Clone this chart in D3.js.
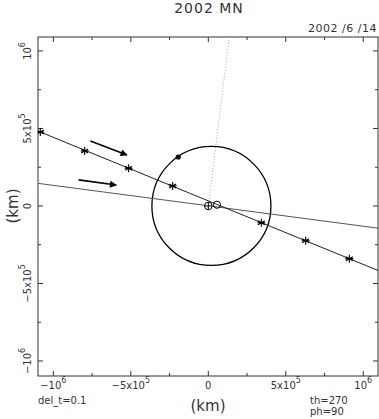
<!DOCTYPE html>
<html><head><meta charset="utf-8">
<script src="https://cdn.jsdelivr.net/npm/d3@7"></script>
<style>
body{margin:0;background:#fff;}
text{font-family:"DejaVu Sans",sans-serif;fill:#333;}
</style></head>
<body><div id="chart"></div>
<script>
// ---- data ----
const title = "2002 MN";
const dateLabel = "2002 /6 /14";
const majorTicks = [-1e6, -5e5, 0, 5e5, 1e6];
const tickBase = ["\u221210", "\u22125x10", "0", "5x10", "10"];
const tickExp = ["6", "5", "", "5", "6"];
const minorTicks = [-7.5e5, -2.5e5, 2.5e5, 7.5e5];
// asteroid positions every del_t (km)
const starX = [-1084e3, -798e3, -514e3, -230e3, 342e3, 628e3, 910e3];
const starY = [477e3, 355e3, 243e3, 129e3, -108e3, -224e3, -340e3];
// trajectory line
const trajX = [-1.10e6, 1.10e6];
const trajY = [4.835e5, -4.18e5];
// second line
const line2X = [-1.10e6, 1.10e6];
const line2Y = [1.46e5, -1.44e5];
// direction arrows
const arrow1X = [-761e3, -525e3], arrow1Y = [419e3, 329e3];
const arrow2X = [-837e3, -594e3], arrow2Y = [168e3, 135e3];
// dotted line (direction)
const dotX = [1.35e5, 0], dotY = [1.09e6, 0];
// moon orbit
const orbitCenter = [20e3, 0], orbitR = 384e3;
const dotPoint = [-194e3, 316e3];
const earth = [0, 0];
const moon = [56e3, 8e3];

// ---- chart ----
const W = 379, H = 419;
const svg = d3.select("#chart").append("svg").attr("width", W).attr("height", H);
const x = d3.scaleLinear().domain([-1.099e6, 1.095e6]).range([38, 378]);
const y = d3.scaleLinear().domain([-1.097e6, 1.090e6]).range([376, 37]);
const kx = (x(1e6) - x(0)) / 1e6;

svg.append("defs").append("clipPath").attr("id", "clip")
  .append("rect").attr("x", 38).attr("y", 37).attr("width", 340).attr("height", 339);
svg.select("defs").append("marker").attr("id", "ah").attr("viewBox", "0 0 10 10")
  .attr("refX", 9).attr("refY", 5).attr("markerWidth", 8).attr("markerHeight", 7)
  .attr("markerUnits", "userSpaceOnUse").attr("orient", "auto")
  .append("path").attr("d", "M0,0L10,5L0,10Z").attr("fill", "#000");

// frame
svg.append("rect").attr("x", 38).attr("y", 37).attr("width", 340).attr("height", 339)
  .attr("fill", "none").attr("stroke", "#333").attr("stroke-width", 1);

// ticks
const tk = svg.append("g").attr("stroke", "#333").attr("stroke-width", 1);
function ticks(vals, len) {
  vals.forEach(v => {
    const px = x(v), py = y(v);
    tk.append("line").attr("x1", px).attr("x2", px).attr("y1", 376).attr("y2", 376 - len);
    tk.append("line").attr("x1", px).attr("x2", px).attr("y1", 37).attr("y2", 37 + len);
    tk.append("line").attr("y1", py).attr("y2", py).attr("x1", 38).attr("x2", 38 + len);
    tk.append("line").attr("y1", py).attr("y2", py).attr("x1", 378).attr("x2", 378 - len);
  });
}
ticks(majorTicks, 5);
ticks(minorTicks, 3);

// tick labels
majorTicks.forEach((v, i) => {
  const t = svg.append("text").attr("x", x(v)).attr("y", 389).attr("text-anchor", "middle")
    .attr("font-size", 10);
  t.append("tspan").text(tickBase[i]);
  if (tickExp[i]) t.append("tspan").attr("dy", -6).attr("font-size", 8).text(tickExp[i]);
  const ty = svg.append("text").attr("transform", `translate(31,${y(v)}) rotate(-90)`)
    .attr("text-anchor", "middle").attr("font-size", 10);
  ty.append("tspan").text(tickBase[i]);
  if (tickExp[i]) ty.append("tspan").attr("dy", -6).attr("font-size", 8).text(tickExp[i]);
});

// labels
svg.append("text").attr("x", 209).attr("y", 13).attr("text-anchor", "middle")
  .attr("font-size", 14).attr("letter-spacing", 1).text(title);
svg.append("text").attr("x", 377).attr("y", 32).attr("text-anchor", "end")
  .attr("font-size", 11).attr("letter-spacing", 0.5).text(dateLabel);
svg.append("text").attr("x", 208).attr("y", 411).attr("text-anchor", "middle")
  .attr("font-size", 15).text("(km)");
svg.append("text").attr("transform", "translate(18,206) rotate(-90)").attr("text-anchor", "middle")
  .attr("font-size", 15).text("(km)");
svg.append("text").attr("x", 38).attr("y", 404).attr("font-size", 10).text("del_t=0.1");
svg.append("text").attr("x", 310).attr("y", 404).attr("font-size", 10).text("th=270");
svg.append("text").attr("x", 310).attr("y", 415).attr("font-size", 10).text("ph=90");

const g = svg.append("g").attr("clip-path", "url(#clip)");
const line = d3.line().x(d => x(d[0])).y(d => y(d[1]));

// dotted line
g.append("path").attr("d", line(d3.zip(dotX, dotY))).attr("stroke", "#aaa")
  .attr("stroke-width", 1).attr("stroke-dasharray", "1,2").attr("fill", "none");
// orbit
g.append("circle").attr("cx", x(orbitCenter[0])).attr("cy", y(orbitCenter[1]))
  .attr("r", orbitR * kx).attr("fill", "none").attr("stroke", "#000").attr("stroke-width", 1.3);
// lines
g.append("path").attr("d", line(d3.zip(line2X, line2Y))).attr("stroke", "#555")
  .attr("stroke-width", 1).attr("fill", "none");
g.append("path").attr("d", line(d3.zip(trajX, trajY))).attr("stroke", "#222")
  .attr("stroke-width", 1).attr("fill", "none");
// arrows
[[arrow1X, arrow1Y], [arrow2X, arrow2Y]].forEach(([ax, ay]) => {
  g.append("path").attr("d", line(d3.zip(ax, ay))).attr("stroke", "#000")
    .attr("stroke-width", 1.6).attr("fill", "none").attr("marker-end", "url(#ah)");
});
// stars
const sr = 4;
const starPath = `M0,${-sr}L0,${sr}M${-sr*0.87},${-sr/2}L${sr*0.87},${sr/2}M${-sr*0.87},${sr/2}L${sr*0.87},${-sr/2}M${-sr},0L${sr},0`;
d3.zip(starX, starY).forEach(d => {
  g.append("path").attr("d", starPath).attr("transform", `translate(${x(d[0])},${y(d[1])})`)
    .attr("stroke", "#000").attr("stroke-width", 1.1).attr("fill", "none");
});
// filled dot
g.append("circle").attr("cx", x(dotPoint[0])).attr("cy", y(dotPoint[1])).attr("r", 2.6).attr("fill", "#000");
// earth
const ex = x(earth[0]), ey = y(earth[1]);
g.append("circle").attr("cx", ex).attr("cy", ey).attr("r", 3.8).attr("fill", "#fff").attr("stroke", "#000").attr("stroke-width", 1);
g.append("path").attr("d", `M${ex-3.8},${ey}L${ex+3.8},${ey}M${ex},${ey-3.8}L${ex},${ey+3.8}`).attr("stroke", "#000").attr("stroke-width", 1);
// moon
g.append("circle").attr("cx", x(moon[0])).attr("cy", y(moon[1])).attr("r", 3.6).attr("fill", "none").attr("stroke", "#000").attr("stroke-width", 1);
</script></body></html>
